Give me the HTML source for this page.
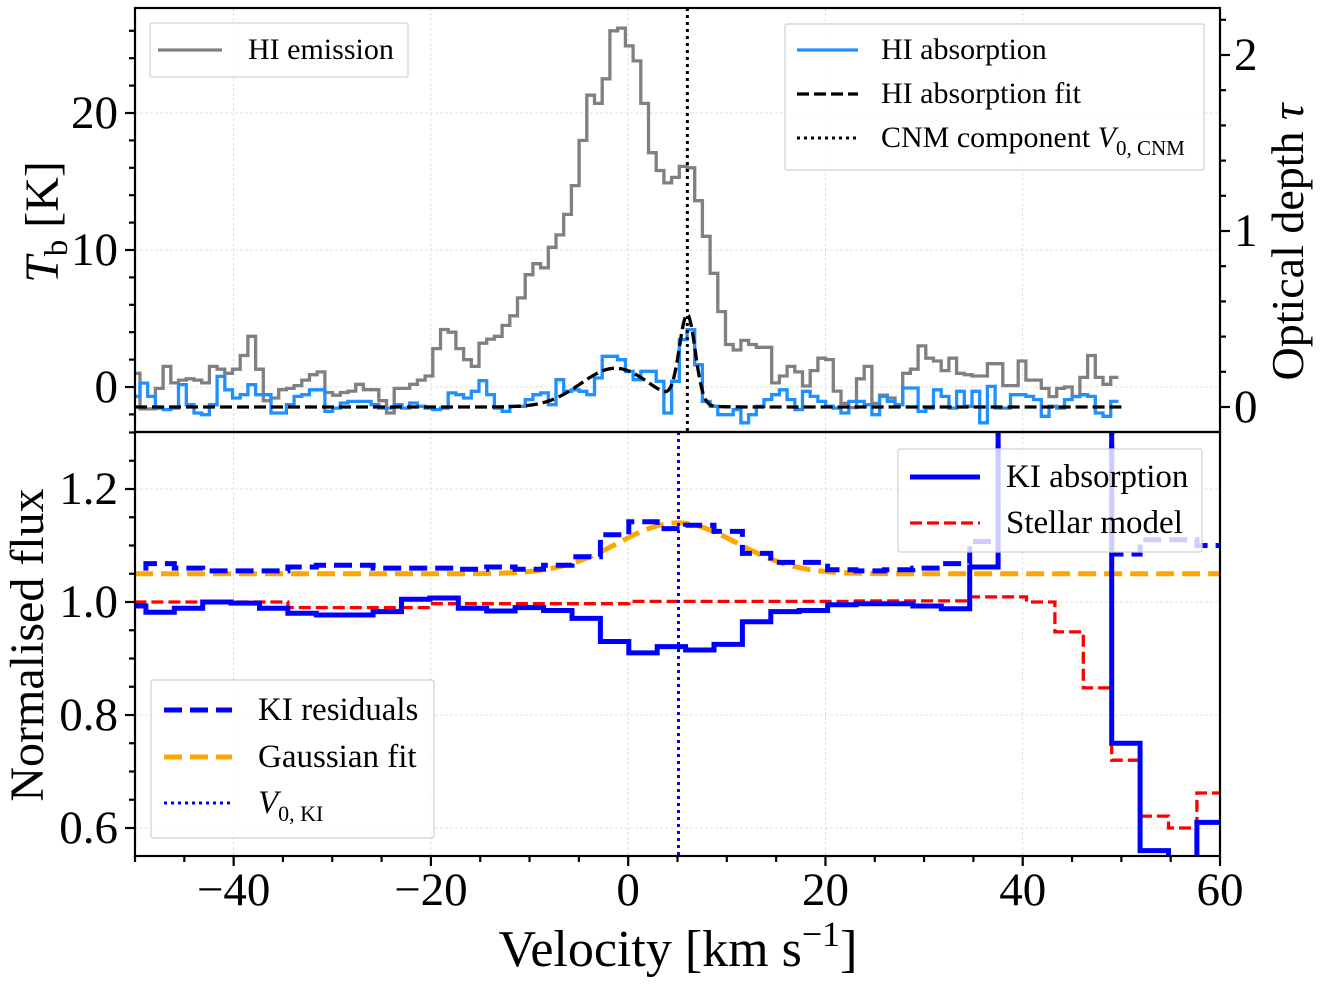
<!DOCTYPE html>
<html><head><meta charset="utf-8">
<style>
html,body{margin:0;padding:0;background:#fff;}
svg{display:block;font-family:"Liberation Serif","DejaVu Serif",serif;}
</style></head>
<body>
<svg id="chart" width="1324" height="988" viewBox="0 0 1324 988" xmlns="http://www.w3.org/2000/svg">
</svg>
<script>
// ---------- data ----------
const hiFirstEdge = -49.49;           // km/s
const hiBinWidth = 0.781;             // km/s
const hiEmission = [1.0,
 -1.6,-1.6,-0.1,1.5,0.3,0.5,0.6,0.5,0.3,1.5,1.3,1.0,1.3,2.3,3.7,1.3,-1.0,-0.8,-0.2,-0.1,0.1,0.5,0.9,1.1,
 -0.4,-0.6,-0.4,-0.3,0.2,-0.2,-0.2,-1.0,-1.9,-0.1,-0.1,0.2,0.5,0.8,2.8,4.2,4.0,2.8,2.0,1.5,3.2,3.5,3.7,
 4.5,5.2,6.5,8.2,9.0,8.7,10.2,11.1,12.6,14.7,18.0,21.3,20.7,
 22.5,26.0,26.2,24.9,23.8,20.7,17.1,15.8,14.9,15.3,16.1,16.0,13.6,11.0,8.3,5.5,3.1,2.7,3.4,3.1,2.9,2.9,
 0.3,0.8,1.5,1.1,0.07,1.2,2.1,2.0,-0.3,-1.2,-1.5,0.6,1.5,-1.2,-0.6,-0.8,-1.3,1.0,1.3,3.0,2.1,1.9,1.2,2.1,
 1.0,0.9,0.8,0.8,1.7,1.7,0.1,0.1,1.9,0.5,0.5,-0.1,-0.7,-0.1,0.0,-0.7,0.7,2.3,0.7,0.2,0.7];
const hiAbsorption = [0.06,
 0.136,0.06,-0.006,-0.015,-0.006,0.127,0.013,-0.034,-0.044,0.013,0.174,0.098,0.051,0.07,0.127,0.07,0.07,-0.034,-0.034,
 0.013,0.06,0.07,0.098,0.098,-0.025,-0.006,0.023,0.032,0.032,0.032,0.013,-0.006,-0.006,0.013,-0.006,0.023,0.004,-0.006,
 -0.015,-0.006,0.08,0.07,0.051,0.089,0.15,0.07,-0.006,-0.025,0.004,0.004,0.042,0.07,0.08,0.013,0.155,0.089,0.098,0.089,0.07,0.165,
 0.288,0.288,0.269,0.203,0.155,0.203,0.203,0.146,-0.034,0.146,0.383,0.44,0.24,0.032,0.004,-0.044,-0.044,-0.015,-0.09,-0.044,
 0.004,0.042,0.07,0.098,0.042,-0.015,0.089,0.06,0.032,0.004,-0.006,-0.034,0.032,0.032,0.013,-0.044,0.06,0.032,0.013,0.108,
 0.108,-0.025,-0.006,0.098,0.06,-0.006,0.089,0.004,0.089,-0.09,0.117,-0.006,-0.006,0.07,0.07,0.06,0.042,-0.053,0.004,-0.006,
 0.042,0.06,0.07,0.06,-0.034,-0.053,0.032];
const hiFitAmps = [0.22, 0.50];
const hiFitCenters = [-1.3, 6.0];
const hiFitSigmas = [3.5, 0.8];
const cnmV0 = 6.0;

const kiFirstEdge = -48.9;
const kiBinWidth = 2.88;
const kiAbsorption = [0.993,0.982,0.989,1.0,0.998,0.989,0.98,0.977,0.977,0.983,1.005,1.007,0.989,0.984,0.99,0.985,
 0.971,0.93,0.91,0.921,0.915,0.925,0.965,0.983,0.985,0.995,0.997,0.997,0.993,0.988,1.062,1.6,1.6,1.6,1.6,0.75,0.56,0.5,0.61];
const kiResiduals = [1.06,1.068,1.06,1.055,1.055,1.055,1.062,1.065,1.065,1.06,1.06,1.06,1.058,1.062,1.058,1.065,
 1.08,1.119,1.142,1.13,1.136,1.125,1.086,1.07,1.07,1.057,1.055,1.057,1.06,1.068,1.107,1.6,1.6,1.6,1.6,1.085,1.11,1.11,1.1];
const stellarModel = [1.0,1.0,1.0,1.0,1.0,1.0,0.99,0.99,0.99,0.99,0.99,0.997,0.997,0.997,0.997,0.997,0.997,0.997,
 1.001,1.001,1.001,1.001,1.001,1.001,1.001,1.001,1.002,1.002,1.002,1.002,1.009,1.009,1.0,0.947,0.848,0.72,0.621,0.6,0.662];
const gaussBase = [1.05];
const gaussAmp = [0.09];
const gaussCenter = [5.0];
const gaussSigma = [6.0];
const kiV0 = 5.1;

const xTicks = [-40,-20,0,20,40,60];
const tbTicks = [0,10,20];
const tauTicks = [0,1,2];
const fluxTicks = [0.6,0.8,1.0,1.2];

// ---------- geometry ----------
const L=135,R=1220,T1=8,B1=432,T2=432,B2=856;
const xs = v => L + (v+50)/110*(R-L);
const yTb = t => 387 - t*13.7;
const yTau = t => 407 - t*176;
const yFlux = f => 602 - (f-1.0)*565;

const NS='http://www.w3.org/2000/svg';
const svg=document.getElementById('chart');
function el(tag,attrs,parent){const e=document.createElementNS(NS,tag);for(const k in attrs)e.setAttribute(k,attrs[k]);(parent||svg).appendChild(e);return e;}

const defs=el('defs',{});
const c1=el('clipPath',{id:'clipTop'},defs); el('rect',{x:L,y:T1,width:R-L,height:B1-T1},c1);
const c2=el('clipPath',{id:'clipBot'},defs); el('rect',{x:L,y:T2,width:R-L,height:B2-T2},c2);

const gTop=el('g',{'clip-path':'url(#clipTop)'});


const gBot=el('g',{'clip-path':'url(#clipBot)'});


const gridStyle={stroke:'#d8d8d8','stroke-width':0.8,'stroke-dasharray':'3,2',fill:'none'};
xTicks.forEach(v=>{
  const a=el('line',Object.assign({x1:xs(v),x2:xs(v),y1:T1,y2:B1},gridStyle),gTop);
  
  
  const b=el('line',Object.assign({x1:xs(v),x2:xs(v),y1:T2,y2:B2},gridStyle),gBot);
  
  
});
tbTicks.forEach(t=>{
  const a=el('line',Object.assign({x1:L,x2:R,y1:yTb(t),y2:yTb(t)},gridStyle),gTop);
  
  
});
fluxTicks.forEach(f=>{
  const a=el('line',Object.assign({x1:L,x2:R,y1:yFlux(f),y2:yFlux(f)},gridStyle),gBot);
  
  
});

function stepPath(values, firstEdge, width, yf, firstPartial){
  let d='';
  values.forEach((val,i)=>{
    const left = firstPartial ? firstEdge+(i-1)*width : firstEdge+i*width;
    const right = left+width;
    const y=yf(val);
    d += (i===0?'M':'L')+xs(left).toFixed(1)+','+y.toFixed(1)+' L'+xs(right).toFixed(1)+','+y.toFixed(1)+' ';
  });
  return d;
}
function curvePath(fn, yf, v0, v1){
  let d='';
  for(let v=v0; v<=v1+1e-9; v+=0.1){ d+=(d?'L':'M')+xs(v).toFixed(1)+','+yf(fn(v)).toFixed(1)+' '; }
  return d;
}

const emi=el('path',{d:stepPath(hiEmission,hiFirstEdge,hiBinWidth,yTb,true),stroke:'#808080','stroke-width':3.3,fill:'none'},gTop);


const absl=el('path',{d:stepPath(hiAbsorption,hiFirstEdge,hiBinWidth,yTau,true),stroke:'#1e90ff','stroke-width':3.3,fill:'none'},gTop);


const hiFit = v => hiFitAmps.reduce((s,a,k)=>s+a*Math.exp(-Math.pow(v-hiFitCenters[k],2)/(2*hiFitSigmas[k]*hiFitSigmas[k])),0);
const fitl=el('path',{d:curvePath(hiFit,yTau,-50,50),stroke:'#000','stroke-width':3.3,'stroke-dasharray':'12,5',fill:'none'},gTop);


const cnm=el('line',{x1:xs(cnmV0),x2:xs(cnmV0),y1:T1,y2:B1,stroke:'#000','stroke-width':3,'stroke-dasharray':'3,4'},gTop);



const stel=el('path',{d:stepPath(stellarModel,kiFirstEdge,kiBinWidth,yFlux,true),stroke:'#ff0000','stroke-width':3.3,'stroke-dasharray':'12,5',fill:'none'},gBot);


const gaussFn = v => gaussBase[0]+gaussAmp[0]*Math.exp(-Math.pow(v-gaussCenter[0],2)/(2*gaussSigma[0]*gaussSigma[0]));
const gf=el('path',{d:curvePath(gaussFn,yFlux,-50,60),stroke:'#ffa500','stroke-width':5,'stroke-dasharray':'18,8',fill:'none'},gBot);


const res=el('path',{d:stepPath(kiResiduals,kiFirstEdge,kiBinWidth,yFlux,true),stroke:'#0000ff','stroke-width':5,'stroke-dasharray':'18,8',fill:'none'},gBot);


const kia=el('path',{d:stepPath(kiAbsorption,kiFirstEdge,kiBinWidth,yFlux,true),stroke:'#0000ff','stroke-width':5,fill:'none'},gBot);


const v0k=el('line',{x1:xs(kiV0),x2:xs(kiV0),y1:T2,y2:B2,stroke:'#0000ff','stroke-width':3,'stroke-dasharray':'3,4'},gBot);



const f1=el('rect',{x:L,y:T1,width:R-L,height:B1-T1,fill:'none',stroke:'#000','stroke-width':2.2});


const f2=el('rect',{x:L,y:T2,width:R-L,height:B2-T2,fill:'none',stroke:'#000','stroke-width':2.2});



function tick(x1,y1,x2,y2,name){const t=el('line',{x1:x1,y1:y1,x2:x2,y2:y2,stroke:'#000','stroke-width':2.2});
  
  }
function label(x,y,txt,anchor,size,name){const t=el('text',{x:x,y:y,'text-anchor':anchor,'font-size':size,fill:'#000'});t.textContent=txt;
  
  return t;}

for(let v=-50; v<=60; v+=5){ const maj = xTicks.includes(v); tick(xs(v),B2,xs(v),B2+(maj?10:6),'x-tick'); }
xTicks.forEach(v=>label(xs(v),905,(v<0?'\u2212'+(-v):String(v)),'middle',47,'x-tick-label'));
for(let t=-2; t<=26; t+=2){ const y=yTb(t); if(y<T1||y>B1) continue; const maj=(t%10===0); tick(L,y,L-(maj?10:6),y,'tb-tick'); }
tbTicks.forEach(t=>label(118,yTb(t)+15,String(t),'end',47,'tb-tick-label'));
for(let k=-1; k<=11; k++){ const t=k*0.2; const y=yTau(t); if(y<T1||y>B1) continue; const maj=(k%5===0); tick(R,y,R+(maj?10:6),y,'tau-tick'); }
tauTicks.forEach(t=>label(1234,yTau(t)+15,String(t),'start',47,'tau-tick-label'));
for(let k=11; k<=26; k++){ const f=k*0.05; const y=yFlux(f); if(y<T2||y>B2) continue; const maj=(k%4===0); tick(L,y,L-(maj?10:6),y,'flux-tick'); }
fluxTicks.forEach(f=>label(118,yFlux(f)+15,f.toFixed(1),'end',47,'flux-tick-label'));

const yt1=el('text',{x:0,y:0,transform:'translate(58,222) rotate(-90)','text-anchor':'middle','font-size':48});


yt1.innerHTML='<tspan font-style="italic">T</tspan><tspan font-size="33" dy="9">b</tspan><tspan dy="-9"> [K]</tspan>';
const yt2=el('text',{x:0,y:0,transform:'translate(1303,242) rotate(-90)','text-anchor':'middle','font-size':46});


yt2.innerHTML='Optical depth <tspan font-style="italic">τ</tspan>';
const yt3=el('text',{x:0,y:0,transform:'translate(43,645) rotate(-90)','text-anchor':'middle','font-size':48});


yt3.textContent='Normalised flux';
const xt=el('text',{x:678,y:966,'text-anchor':'middle','font-size':52});


xt.innerHTML='Velocity [km s<tspan font-size="36" dy="-20">\u22121</tspan><tspan dy="20">]</tspan>';

function legendBox(x,y,w,h,name){const r=el('rect',{x:x,y:y,width:w,height:h,fill:'#fff','fill-opacity':0.8,stroke:'#d0d0d0','stroke-width':1.2,rx:2});
  
  }
function legendLine(x1,x2,y,style,name){const l=el('line',Object.assign({x1:x1,x2:x2,y1:y,y2:y,fill:'none'},style));
  
  }

legendBox(150,23,258,54,'legend-hi-emission');
legendLine(158,222,50,{stroke:'#808080','stroke-width':3.3},'legend-swatch-hi-emission');
label(248,59,'HI emission','start',30,'legend-label-hi-emission');

legendBox(785,24,419,146,'legend-hi-absorption');
legendLine(797,858,50,{stroke:'#1e90ff','stroke-width':3.3},'legend-swatch-hi-absorption');
label(881,59,'HI absorption','start',30,'legend-label-hi-absorption');
legendLine(797,858,94,{stroke:'#000','stroke-width':3.3,'stroke-dasharray':'12,5'},'legend-swatch-hi-fit');
label(881,103,'HI absorption fit','start',30,'legend-label-hi-fit');
legendLine(797,858,138,{stroke:'#000','stroke-width':3,'stroke-dasharray':'3,4'},'legend-swatch-cnm');
const cl=label(881,147,'','start',30,'legend-label-cnm');
cl.innerHTML='CNM component <tspan font-style="italic">V</tspan><tspan font-size="21" dy="8">0, CNM</tspan>';

legendBox(898,449,304,103,'legend-ki-absorption');
legendLine(910,980,477,{stroke:'#0000ff','stroke-width':5},'legend-swatch-ki-absorption');
label(1006,487,'KI absorption','start',33,'legend-label-ki-absorption');
legendLine(910,980,523,{stroke:'#ff0000','stroke-width':3.3,'stroke-dasharray':'12,5'},'legend-swatch-stellar');
label(1006,533,'Stellar model','start',33,'legend-label-stellar');

legendBox(151,680,283,158,'legend-ki-residuals');
legendLine(164,232,710,{stroke:'#0000ff','stroke-width':5,'stroke-dasharray':'18,8'},'legend-swatch-ki-residuals');
label(258,720,'KI residuals','start',33,'legend-label-ki-residuals');
legendLine(164,232,757,{stroke:'#ffa500','stroke-width':5,'stroke-dasharray':'18,8'},'legend-swatch-gaussian');
label(258,767,'Gaussian fit','start',33,'legend-label-gaussian');
legendLine(164,232,803,{stroke:'#0000ff','stroke-width':3,'stroke-dasharray':'3,4'},'legend-swatch-ki-v0');
const kl=label(258,813,'','start',33,'legend-label-ki-v0');
kl.innerHTML='<tspan font-style="italic">V</tspan><tspan font-size="22" dy="8">0, KI</tspan>';
</script>
</body></html>
